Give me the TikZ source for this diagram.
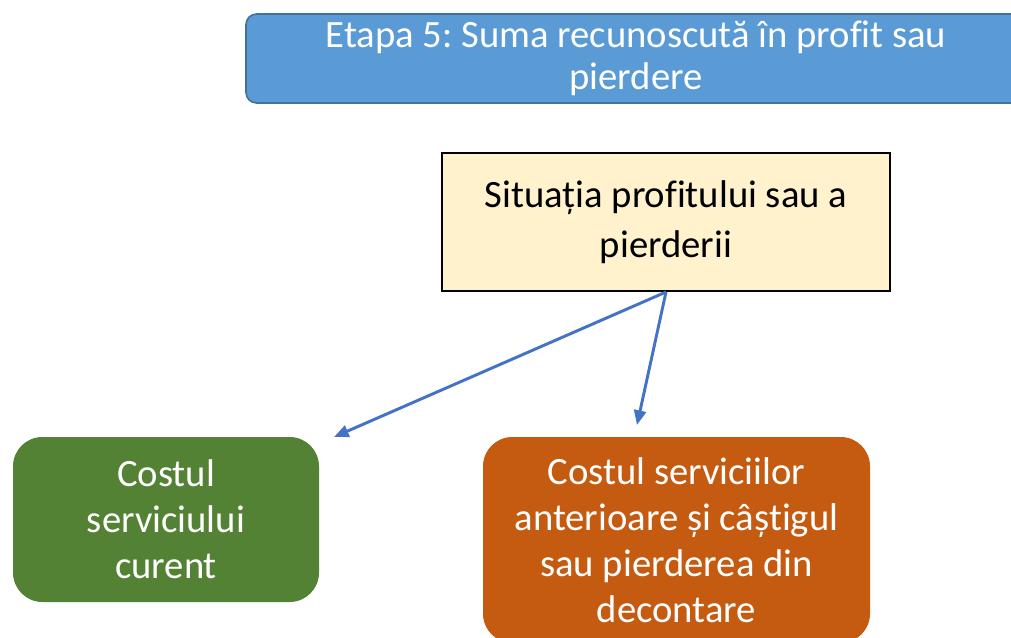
\documentclass[tikz,border=0pt]{standalone}
\usepackage{fontspec}
\setmainfont{Carlito}[Ligatures=NoCommon]
\usepackage{xcolor}
\usetikzlibrary{arrows.meta}
\frenchspacing

\definecolor{etapaAlbastru}{HTML}{5B9BD5}
\definecolor{etapaContur}{HTML}{41719C}
\definecolor{situatieGalben}{HTML}{FFF2CC}
\definecolor{costVerde}{HTML}{548235}
\definecolor{costPortocaliu}{HTML}{C55A11}
\definecolor{sageataAlbastru}{HTML}{4472C4}

\begin{document}
\begin{tikzpicture}[x=0.75pt, y=-0.75pt,
    every node/.style={align=center, inner sep=0pt},
    sageata/.style={draw=sageataAlbastru, line width=2.2pt,
        -{Triangle[length=11pt, width=9pt]}}]
    \useasboundingbox (0,0) rectangle (1011,638);

    % Titlul etapei (taiat la dreapta)
    \node[draw=etapaContur, line width=1.2pt, fill=etapaAlbastru, rounded corners=8pt,
        minimum width=585pt, minimum height=66.75pt, text=white,
        font=\fontsize{29}{33.5}\selectfont] (etapa) at (636,58.5)
        {\raisebox{-2pt}{Etapa 5: Suma recunoscută în profit sau}\\pierdere};

    % Situatia profitului
    \node[draw=black, line width=1.5pt, fill=situatieGalben,
        minimum width=336pt, minimum height=103.5pt,
        font=\fontsize{29}{37.5}\selectfont] (sit) at (666,222)
        {Situația profitului sau a\\pierderii};

    % Componentele
    \node[fill=costVerde, rounded corners=22pt, minimum width=229.5pt,
        minimum height=123.75pt, text=white,
        font=\fontsize{29}{34.5}\selectfont] (curent) at (166,519.5)
        {Costul\\serviciului\\curent};
    \node[fill=costPortocaliu, rounded corners=22pt, minimum width=290.25pt,
        minimum height=154.5pt, text=white,
        font=\fontsize{29}{34.5}\selectfont] (anterior) at (676.5,540)
        {Costul serviciilor\\anterioare și câștigul\\sau pierderea din\\decontare};

    % Capetele sagetilor
    \coordinate (capatCurent) at (334,437);
    \coordinate (capatAnterior) at (637,425);

    \draw[sageata] (sit.south) -- (capatCurent);
    \draw[sageata] (sit.south) -- (capatAnterior);
\end{tikzpicture}
\end{document}
